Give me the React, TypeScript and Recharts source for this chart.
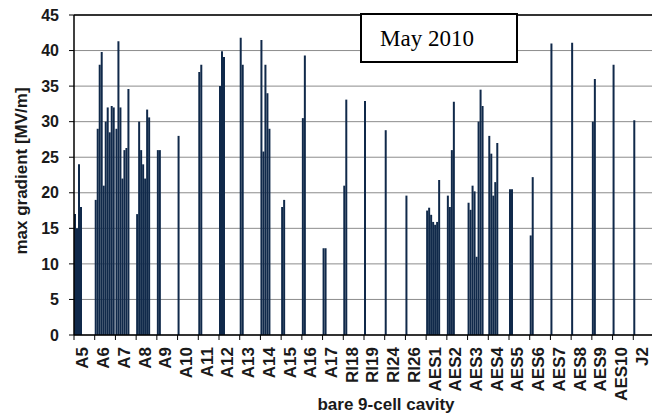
import React from 'react';
import { BarChart, Bar, XAxis, YAxis, CartesianGrid, ReferenceLine } from 'recharts';

const cavities = [
  'A5', 'A6', 'A7', 'A8', 'A9', 'A10', 'A11', 'A12', 'A13', 'A14', 'A15', 'A16', 'A17',
  'RI18', 'RI19', 'RI24', 'RI26',
  'AES1', 'AES2', 'AES3', 'AES4', 'AES5', 'AES6', 'AES7', 'AES8', 'AES9', 'AES10', 'J2',
];

const _ = null;
// max gradient [MV/m] of test n for each cavity (same order as cavities)
const test1 = [17, 19, 29, 17, 26, 28, 37, 35, 41.8, 41.5, 18, 30.5, 12.2, 21, 32.9, 28.8, 19.6, 17.5, 19.6, 18.6, 28, 20.5, 14, 41, 41.1, 30, 38, 30.2];
const test2 = [15, 29, 41.3, 30, 26, _, 38, 39.9, 38, 25.8, 19, 39.3, 12.2, 33.1, _, _, _, 17.9, 18, 17.6, 25.5, 20.5, 22.2, _, _, 36, _, _];
const test3 = [24, 38, 32, 26, _, _, _, 39.1, _, 38, _, _, _, _, _, _, _, 16.9, 26, 21, 19.6, _, _, _, _, _, _, _];
const test4 = [18, 39.8, 22, 24, _, _, _, _, _, 34, _, _, _, _, _, _, _, 15.9, 32.8, 20.2, 21.5, _, _, _, _, _, _, _];
const test5 = [_, 21, 26, 22, _, _, _, _, _, 29, _, _, _, _, _, _, _, 15.5, _, 11, 27, _, _, _, _, _, _, _];
const test6 = [_, 30, 26.3, 31.7, _, _, _, _, _, _, _, _, _, _, _, _, _, 15.9, _, 30, _, _, _, _, _, _, _, _];
const test7 = [_, 32, 34.6, 30.6, _, _, _, _, _, _, _, _, _, _, _, _, _, 21.8, _, 34.5, _, _, _, _, _, _, _, _];
const test8 = [_, 28.5, _, _, _, _, _, _, _, _, _, _, _, _, _, _, _, _, _, 32.2, _, _, _, _, _, _, _, _];
const test9 = [_, 32.2, _, _, _, _, _, _, _, _, _, _, _, _, _, _, _, _, _, _, _, _, _, _, _, _, _, _];
const test10 = [_, 32, _, _, _, _, _, _, _, _, _, _, _, _, _, _, _, _, _, _, _, _, _, _, _, _, _, _];

const yTicks = [0, 5, 10, 15, 20, 25, 30, 35, 40, 45];

const tests = [test1, test2, test3, test4, test5, test6, test7, test8, test9, test10];
const data = cavities.map((name, i) => {
  const row: Record<string, any> = { name };
  tests.forEach((t, k) => {
    row['t' + (k + 1)] = t[i];
  });
  return row;
});

const FONT = '"Liberation Sans", Arial, sans-serif';
const BAR = '#10294a';

function CavityTick(props: any) {
  const { x, y, payload } = props;
  const half = payload && payload.offset != null ? payload.offset : 10.36;
  return (
    <g>
      <line x1={x - half} x2={x - half} y1={y} y2={y + 5} stroke="#000" />
      <text
        transform={`translate(${x + 4},${y + 12}) rotate(-90)`}
        textAnchor="end"
        fontSize={17}
        fontWeight="bold"
        fontFamily={FONT}
        fill="#1a1a1a"
      >
        {payload.value}
      </text>
    </g>
  );
}

export default function App() {
  return (
    <div style={{ position: 'fixed', left: 0, top: 0, width: 652, height: 416, overflow: 'hidden', background: '#fff' }}>
      <BarChart
        width={660}
        height={416}
        data={data}
        margin={{ top: 15, right: 6, bottom: 0, left: 0 }}
        barCategoryGap={0}
        barGap={0}
      >
        <CartesianGrid vertical={false} stroke="#8c8c8c" />
        <XAxis
          dataKey="name"
          interval={0}
          height={81}
          tickSize={0}
          tickMargin={0}
          tickLine={false}
          axisLine={{ stroke: '#000', strokeWidth: 1.5 }}
          tick={<CavityTick />}
        />
        <YAxis
          domain={[0, 45]}
          ticks={yTicks}
          interval={0}
          width={74}
          tickSize={5}
          tickMargin={10}
          axisLine={{ stroke: '#000', strokeWidth: 1.5 }}
          tickLine={{ stroke: '#000' }}
          tick={{ fontSize: 16, fontWeight: 'bold', fill: '#1a1a1a', fontFamily: FONT }}
        />
        <ReferenceLine y={45} stroke="#000" strokeWidth={1.5} />
        {tests.map((_t, k) => (
          <Bar key={k} dataKey={'t' + (k + 1)} fill={BAR} isAnimationActive={false} />
        ))}
      </BarChart>

      <div
        style={{
          position: 'absolute',
          left: 22,
          top: 171,
          transform: 'translate(-50%, -50%) rotate(-90deg)',
          whiteSpace: 'nowrap',
          fontFamily: FONT,
          fontWeight: 'bold',
          fontSize: 17,
          color: '#1a1a1a',
        }}
      >
        max gradient [MV/m]
      </div>

      <div
        style={{
          position: 'absolute',
          left: 386,
          top: 396,
          transform: 'translateX(-50%)',
          whiteSpace: 'nowrap',
          fontFamily: FONT,
          fontWeight: 'bold',
          fontSize: 17,
          lineHeight: '17px',
          color: '#1a1a1a',
        }}
      >
        bare 9-cell cavity
      </div>

      <div
        style={{
          position: 'absolute',
          left: 360,
          top: 13,
          width: 158,
          height: 50,
          boxSizing: 'border-box',
          border: '2px solid #000',
          background: '#fff',
          padding: '11px 0 0 18px',
          fontFamily: '"Liberation Serif", "Times New Roman", serif',
          fontSize: 23,
          lineHeight: '25px',
          color: '#000',
        }}
      >
        May 2010
      </div>
    </div>
  );
}
